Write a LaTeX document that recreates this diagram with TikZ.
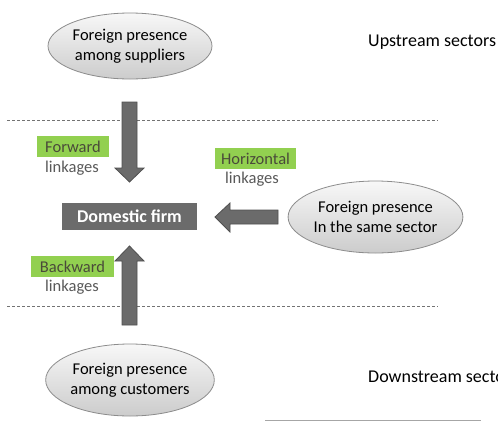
\documentclass[tikz,border=0pt]{standalone}
\usepackage{fontspec}
\setmainfont{Carlito}
\usetikzlibrary{shapes.geometric}
\definecolor{lgreen}{HTML}{92D050}
\definecolor{arrfill}{HTML}{6B6B6B}
\definecolor{arrdraw}{HTML}{505050}
\definecolor{ltxt}{HTML}{595959}
\definecolor{gtxt}{HTML}{4A4A3A}
\tikzset{
  txt/.style={font=\fontsize{16.5}{20.5}\selectfont},
  sectxt/.style={font=\fontsize{18}{21}\selectfont, anchor=west, inner sep=0pt},
  oval/.style={ellipse, draw=black!45, line width=0.8pt, top color=black!3, bottom color=black!20,
    minimum width=164pt, align=center, inner sep=0pt, txt},
  tag/.style={fill=lgreen, text=gtxt, inner sep=2pt, txt, anchor=center},
  lnk/.style={text=ltxt, txt, inner sep=0pt},
  blockarrow/.style={fill=arrfill, draw=arrdraw, line width=0.8pt},
  sep/.style={draw=black!55, dashed, dash pattern=on 3pt off 2pt, line width=0.7pt},
}
\begin{document}
\begin{tikzpicture}[x=1pt,y=-1pt]
\useasboundingbox (0,0) rectangle (498,421);
\clip (0,0) rectangle (498,421);
\fill[white] (0,0) rectangle (498,421);

% separators
\coordinate (s1a) at (7,120); \coordinate (s1b) at (438,120);
\coordinate (s2a) at (7,306); \coordinate (s2b) at (438,306);
\draw[sep] (s1a) -- (s1b);
\draw[sep] (s2a) -- (s2b);
\coordinate (ba) at (265,420.3); \coordinate (bb) at (481,420.3);
\draw[black!35, line width=0.6pt] (ba) -- (bb);

% ellipses
\node[oval, minimum height=66pt] (supp) at (130,46) {Foreign presence\\among suppliers};
\node[oval, minimum height=72pt] (same) at (375.5,217) {Foreign presence\\In the same sector};
\node[oval, minimum height=72pt] (cust) at (130,380) {Foreign presence\\among customers};

% sector labels
\node[sectxt] (up) at (368,42) {Upstream sectors};
\node[sectxt] (down) at (368,377) {Downstream sectors};

% domestic firm
\node[fill=arrfill, text=white, minimum width=135pt, minimum height=27pt, inner sep=0pt,
  font=\fontsize{18}{20}\selectfont\bfseries] (firm) at (129.5,216.5) {Domestic firm};

% block arrows
\draw[blockarrow] (122,102) -- (137,102) -- (137,168) -- (144,168) -- (129.5,182)
  -- (115,168) -- (122,168) -- cycle;
\draw[blockarrow] (122,325) -- (137,325) -- (137,261) -- (144,261) -- (129.5,246)
  -- (115,261) -- (122,261) -- cycle;
\draw[blockarrow] (278,210) -- (278,224) -- (230,224) -- (230,232) -- (215,217)
  -- (230,203) -- (230,210) -- cycle;

% linkage labels
\node[tag, minimum width=72pt, minimum height=21pt] (fw) at (73,146.5) {Forward};
\node[lnk] (fwl) at (72,168) {linkages};
\node[tag, minimum width=81pt, minimum height=21pt] (hz) at (255.5,158.5) {Horizontal};
\node[lnk] (hzl) at (252,179.5) {linkages};
\node[tag, minimum width=83pt, minimum height=21pt] (bw) at (72.5,266.5) {Backward};
\node[lnk] (bwl) at (72,287.5) {linkages};
\end{tikzpicture}
\end{document}
